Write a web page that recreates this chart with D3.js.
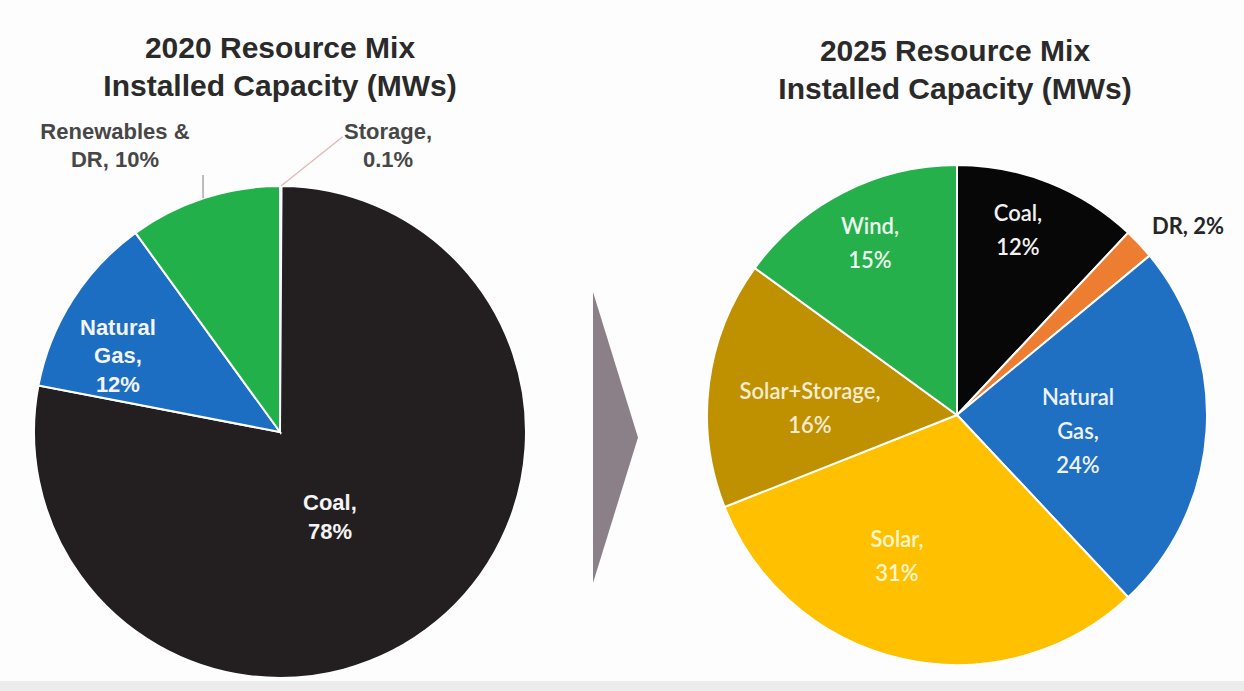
<!DOCTYPE html>
<html>
<head>
<meta charset="utf-8">
<script src="https://cdn.jsdelivr.net/npm/d3@7"></script>
<style>
  html, body { margin: 0; padding: 0; background: #fdfdfd; }
  svg { display: block; }
</style>
</head>
<body>
<svg id="chart" width="1244" height="691"></svg>
<script>
// 2020 resource mix (percent of installed capacity), clockwise from 12 o'clock
const categories2020 = ["Storage", "Coal", "Natural Gas", "Renewables & DR"];
const values2020 = [0.1, 78, 12, 10];
const labels2020 = [["Storage,", "0.1%"], ["Coal,", "78%"], ["Natural", "Gas,", "12%"], ["Renewables &", "DR, 10%"]];

// 2025 resource mix (percent of installed capacity), clockwise from 12 o'clock
const categories2025 = ["Coal", "DR", "Natural Gas", "Solar", "Solar+Storage", "Wind"];
const values2025 = [12, 2, 24, 31, 16, 15];
const labels2025 = [["Coal,", "12%"], ["DR, 2%"], ["Natural", "Gas,", "24%"], ["Solar,", "31%"], ["Solar+Storage,", "16%"], ["Wind,", "15%"]];

const titles = [["2020 Resource Mix", "Installed Capacity (MWs)"], ["2025 Resource Mix", "Installed Capacity (MWs)"]];

// Styling per category
const colors2020 = { "Storage": "#ed7d31", "Coal": "#231f20", "Natural Gas": "#1b6ec2", "Renewables & DR": "#22b04b" };
const colors2025 = { "Coal": "#070707", "DR": "#ed7d31", "Natural Gas": "#1f6fc2", "Solar": "#ffc000", "Solar+Storage": "#bf9000", "Wind": "#25b04b" };

// Label anchors relative to pie centre, in units of radius; inside labels are light, outside are dark
const labelPos2020 = {
  "Storage": { at: [0.439, -1.165], outside: true },
  "Coal": { at: [0.203, 0.345], outside: false },
  "Natural Gas": { at: [-0.659, -0.31], outside: false },
  "Renewables & DR": { at: [-0.671, -1.165], outside: true }
};
const labelPos2025 = {
  "Coal": { at: [0.244, -0.74], outside: false, fill: "#f2f2f2" },
  "DR": { at: [0.924, -0.755], outside: true },
  "Natural Gas": { at: [0.484, 0.065], outside: false, fill: "#eef3fa" },
  "Solar": { at: [-0.24, 0.565], outside: false, fill: "#fff6d2" },
  "Solar+Storage": { at: [-0.588, -0.025], outside: false, fill: "#f7ecd0" },
  "Wind": { at: [-0.348, -0.685], outside: false, fill: "#eef8ef" }
};

const svg = d3.select("#chart");

// faint band along the bottom edge
svg.append("rect").attr("x", 0).attr("y", 681).attr("width", 1244).attr("height", 10).attr("fill", "#ececec");

function drawPie(opts) {
  const g = svg.append("g").attr("transform", `translate(${opts.cx},${opts.cy})`);
  const pie = d3.pie().sort(null).value(d => d.value);
  const arc = d3.arc().innerRadius(0).outerRadius(opts.r);
  const data = opts.categories.map((c, i) => ({ cat: c, value: opts.values[i], lines: opts.labels[i] }));
  const arcs = pie(data);

  g.selectAll("path.slice").data(arcs).join("path")
    .attr("class", "slice")
    .attr("d", arc)
    .attr("fill", d => opts.colors[d.data.cat])
    .attr("stroke", "#ffffff")
    .attr("stroke-width", opts.strokeW);

  // title
  const t = svg.append("text")
    .attr("x", opts.cx + opts.titleDx)
    .attr("y", opts.titleY)
    .attr("text-anchor", "middle")
    .attr("font-family", "Liberation Sans, Arial, sans-serif")
    .attr("font-weight", "bold")
    .attr("font-size", 30)
    .attr("fill", "#2a2a2a");
  opts.title.forEach((line, i) => {
    t.append("tspan").attr("x", opts.cx + opts.titleDx).attr("dy", i === 0 ? 0 : 38).text(line);
  });

  // leader lines for outside labels
  (opts.leaders || []).forEach(l => {
    const p0 = [Math.sin(l.angle) * opts.r, -Math.cos(l.angle) * opts.r];
    g.append("line")
      .attr("x1", p0[0]).attr("y1", p0[1])
      .attr("x2", l.to[0] * opts.r).attr("y2", l.to[1] * opts.r)
      .attr("stroke", l.color).attr("stroke-width", 1.3);
  });

  // data labels
  arcs.forEach(d => {
    const pos = opts.labelPos[d.data.cat];
    const lines = d.data.lines;
    const lh = opts.lineH;
    const x = pos.at[0] * opts.r;
    const yc = pos.at[1] * opts.r;
    const txt = g.append("text")
      .attr("text-anchor", "middle")
      .attr("font-family", pos.outside ? opts.outFont : opts.inFont)
      .attr("font-weight", pos.outside ? "bold" : opts.inWeight)
      .attr("font-size", pos.outside ? opts.outSize : opts.inSize)
      .attr("fill", pos.outside ? opts.outFill : (pos.fill || "#f4f4f4"));
    lines.forEach((line, i) => {
      txt.append("tspan")
        .attr("x", x)
        .attr("y", yc + (i - (lines.length - 1) / 2) * lh)
        .attr("dy", "0.35em")
        .text(line);
    });
  });
}

drawPie({
  cx: 280, cy: 432, r: 246, strokeW: 2,
  categories: categories2020, values: values2020, labels: labels2020,
  colors: colors2020, labelPos: labelPos2020, title: titles[0],
  titleDx: 0, titleY: 58,
  lineH: 28.5,
  inFont: "Liberation Sans, Arial, sans-serif", inWeight: "bold", inSize: 22,
  outFont: "Liberation Sans, Arial, sans-serif", outSize: 22, outFill: "#474747",
  leaders: [
    { angle: -0.318, to: [-0.313, -1.045], color: "#9a9a9a" },
    { angle: 0.004, to: [0.255, -1.2], color: "#e0b8b8" }
  ]
});

drawPie({
  cx: 957, cy: 415, r: 250, strokeW: 2,
  categories: categories2025, values: values2025, labels: labels2025,
  colors: colors2025, labelPos: labelPos2025, title: titles[1],
  titleDx: -2, titleY: 61,
  lineH: 34,
  inFont: "Lato, Open Sans, sans-serif", inWeight: "600", inSize: 22,
  outFont: "Lato, Open Sans, sans-serif", outSize: 22, outFill: "#262626"
});

// transition arrow between the two pies
const arrowY = d3.scaleLinear().domain([0, 1]).range([292, 583]);
svg.append("path")
  .attr("d", d3.line()([[593, arrowY(0)], [638, arrowY(0.5)], [593, arrowY(1)]]) + "Z")
  .attr("fill", "#8c8088");
</script>
</body>
</html>
